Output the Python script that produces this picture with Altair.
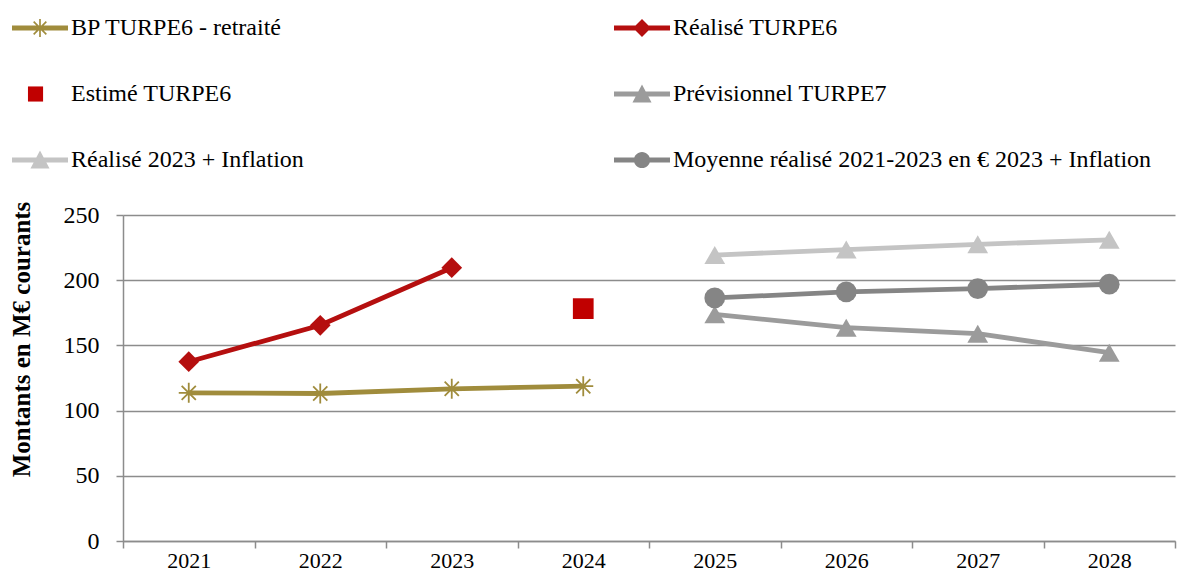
import math
import altair as alt
import pandas as pd

years = ["2021", "2022", "2023", "2024", "2025", "2026", "2027", "2028"]
series_names = [
    "BP TURPE6 - retraité",
    "Réalisé TURPE6",
    "Estimé TURPE6",
    "Prévisionnel TURPE7",
    "Réalisé 2023 + Inflation",
    "Moyenne réalisé 2021-2023 en € 2023 + Inflation",
]
bp_turpe6 = [113.6, 113.1, 116.7, 118.7, None, None, None, None]
realise_turpe6 = [137.5, 165.4, 209.6, None, None, None, None, None]
estime_turpe6 = [None, None, None, 178.2, None, None, None, None]
previsionnel_turpe7 = [None, None, None, None, 173.8, 163.6, 159.0, 144.4]
realise_2023_inflation = [None, None, None, None, 219.3, 223.5, 227.5, 231.0]
moyenne_2021_2023 = [None, None, None, None, 186.4, 191.0, 193.6, 196.9]

colors = ["#A08C3C", "#B50F0F", "#C00000", "#9B9B9B", "#C4C4C4", "#858585"]
font = "Liberation Serif"

all_values = [bp_turpe6, realise_turpe6, estime_turpe6, previsionnel_turpe7,
              realise_2023_inflation, moyenne_2021_2023]
rows = []
for name, vals in zip(series_names, all_values):
    for yr, v in zip(years, vals):
        if v is not None:
            rows.append({"year": yr, "value": v, "series": name})
df = pd.DataFrame(rows)

line_series = [series_names[i] for i in (0, 1, 3, 4, 5)]


# ---- legend symbol paths (line + marker), unit square -1..1 ----
def poly(pts):
    return "M" + "L".join(f"{x:.3f},{y:.3f}" for x, y in pts) + "Z"


def rot_rect(length, half_t, ang):
    c, s = math.cos(ang), math.sin(ang)
    pts = [(-length, -half_t), (length, -half_t), (length, half_t), (-length, half_t)]
    return poly([(x * c - y * s, x * s + y * c) for x, y in pts])


line_path = poly([(-1, -0.09), (1, -0.09), (1, 0.09), (-1, 0.09)])
aster_leg = "".join(rot_rect(0.32, 0.03, a) for a in (math.pi / 2, math.pi / 4, -math.pi / 4))
diamond_leg = poly([(0, -0.32), (0.32, 0), (0, 0.32), (-0.32, 0)])
square_leg = poly([(-0.43, -0.27), (0.11, -0.27), (0.11, 0.27), (-0.43, 0.27)])
tri_leg = poly([(0, -0.34), (0.34, 0.3), (-0.34, 0.3)])
r = 0.29
circle_leg = f"M{r},0A{r},{r} 0 1,1 {-r},0A{r},{r} 0 1,1 {r},0Z"

legend_paths = [
    line_path + aster_leg,
    line_path + diamond_leg,
    square_leg,
    line_path + tri_leg,
    line_path + tri_leg,
    line_path + circle_leg,
]
asterisk = "M0,-1L0,1M-0.71,-0.71L0.71,0.71M-0.71,0.71L0.71,-0.71M-1,0L1,0"

grid_col = "#8C8C8C"

x_enc = alt.X(
    "year:N",
    scale=alt.Scale(type="band", domain=years, paddingInner=0, paddingOuter=0),
    axis=alt.Axis(title=None, tickBand="extent", labelPadding=2, grid=False, labelAngle=0,
                  labelFontSize=22),
)
y_enc = alt.Y(
    "value:Q",
    scale=alt.Scale(domain=[0, 250], nice=False),
    axis=alt.Axis(
        values=[0, 50, 100, 150, 200, 250],
        title="Montants en M€ courants",
        grid=True,
        labelPadding=17,
        titleX=-89,
        titleY=124,
    ),
)
color_scale = alt.Scale(domain=series_names, range=colors)

base = alt.Chart(df)

lines = base.transform_filter(
    alt.FieldOneOfPredicate(field="series", oneOf=line_series)
).mark_line(strokeWidth=4.8).encode(
    x=x_enc, y=y_enc, color=alt.Color("series:N", scale=color_scale, legend=None)
)

points_filled = base.transform_filter(
    alt.datum.series != series_names[0]
).mark_point(filled=True, opacity=1, size=430).encode(
    x=x_enc,
    y=y_enc,
    color=alt.Color("series:N", scale=color_scale, legend=None),
    shape=alt.Shape(
        "series:N",
        scale=alt.Scale(domain=series_names,
                        range=["circle", "diamond", "square", "triangle-up", "triangle-up", "circle"]),
        legend=None,
    ),
)

points_bp = base.transform_filter(
    alt.datum.series == series_names[0]
).mark_point(shape=asterisk, filled=False, opacity=1, size=400, strokeWidth=1.8).encode(
    x=x_enc, y=y_enc, color=alt.Color("series:N", scale=color_scale, legend=None)
)

main = alt.layer(lines, points_filled, points_bp)

leg = alt.Legend(
    title=None,
    orient="none",
    direction="horizontal",
    legendX=-111,
    legendY=-215,
    columns=2,
    columnPadding=310,
    rowPadding=26,
    gridAlign="each",
    symbolSize=3136,
    symbolStrokeWidth=0,
    labelFont=font,
    labelFontSize=24,
    labelColor="#000000",
    labelOffset=3,
    labelLimit=0,
    padding=0,
)

legend_layer = base.transform_filter("false").mark_point(filled=True, opacity=1).encode(
    x=x_enc,
    y=y_enc,
    color=alt.Color("series:N", scale=color_scale, legend=leg),
    shape=alt.Shape("series:N", scale=alt.Scale(domain=series_names, range=legend_paths), legend=leg),
)

chart = alt.layer(main, legend_layer).resolve_scale(
    color="independent", shape="independent"
).properties(
    width=1052,
    height=326,
    padding={"left": 115, "top": 207, "right": 6, "bottom": 34},
    autosize=alt.AutoSizeParams(type="none"),
).configure_view(
    stroke="transparent"
).configure_axis(
    labelFont=font,
    labelFontSize=24,
    labelColor="#000000",
    titleFont=font,
    titleFontSize=25,
    titleFontWeight="bold",
    titleColor="#000000",
    domainColor=grid_col,
    domainWidth=1.5,
    tickColor=grid_col,
    tickWidth=1.5,
    tickSize=7,
    gridColor=grid_col,
    gridWidth=1.5,
)

chart.save("out.html", embed_options={"renderer": "svg", "actions": False})
